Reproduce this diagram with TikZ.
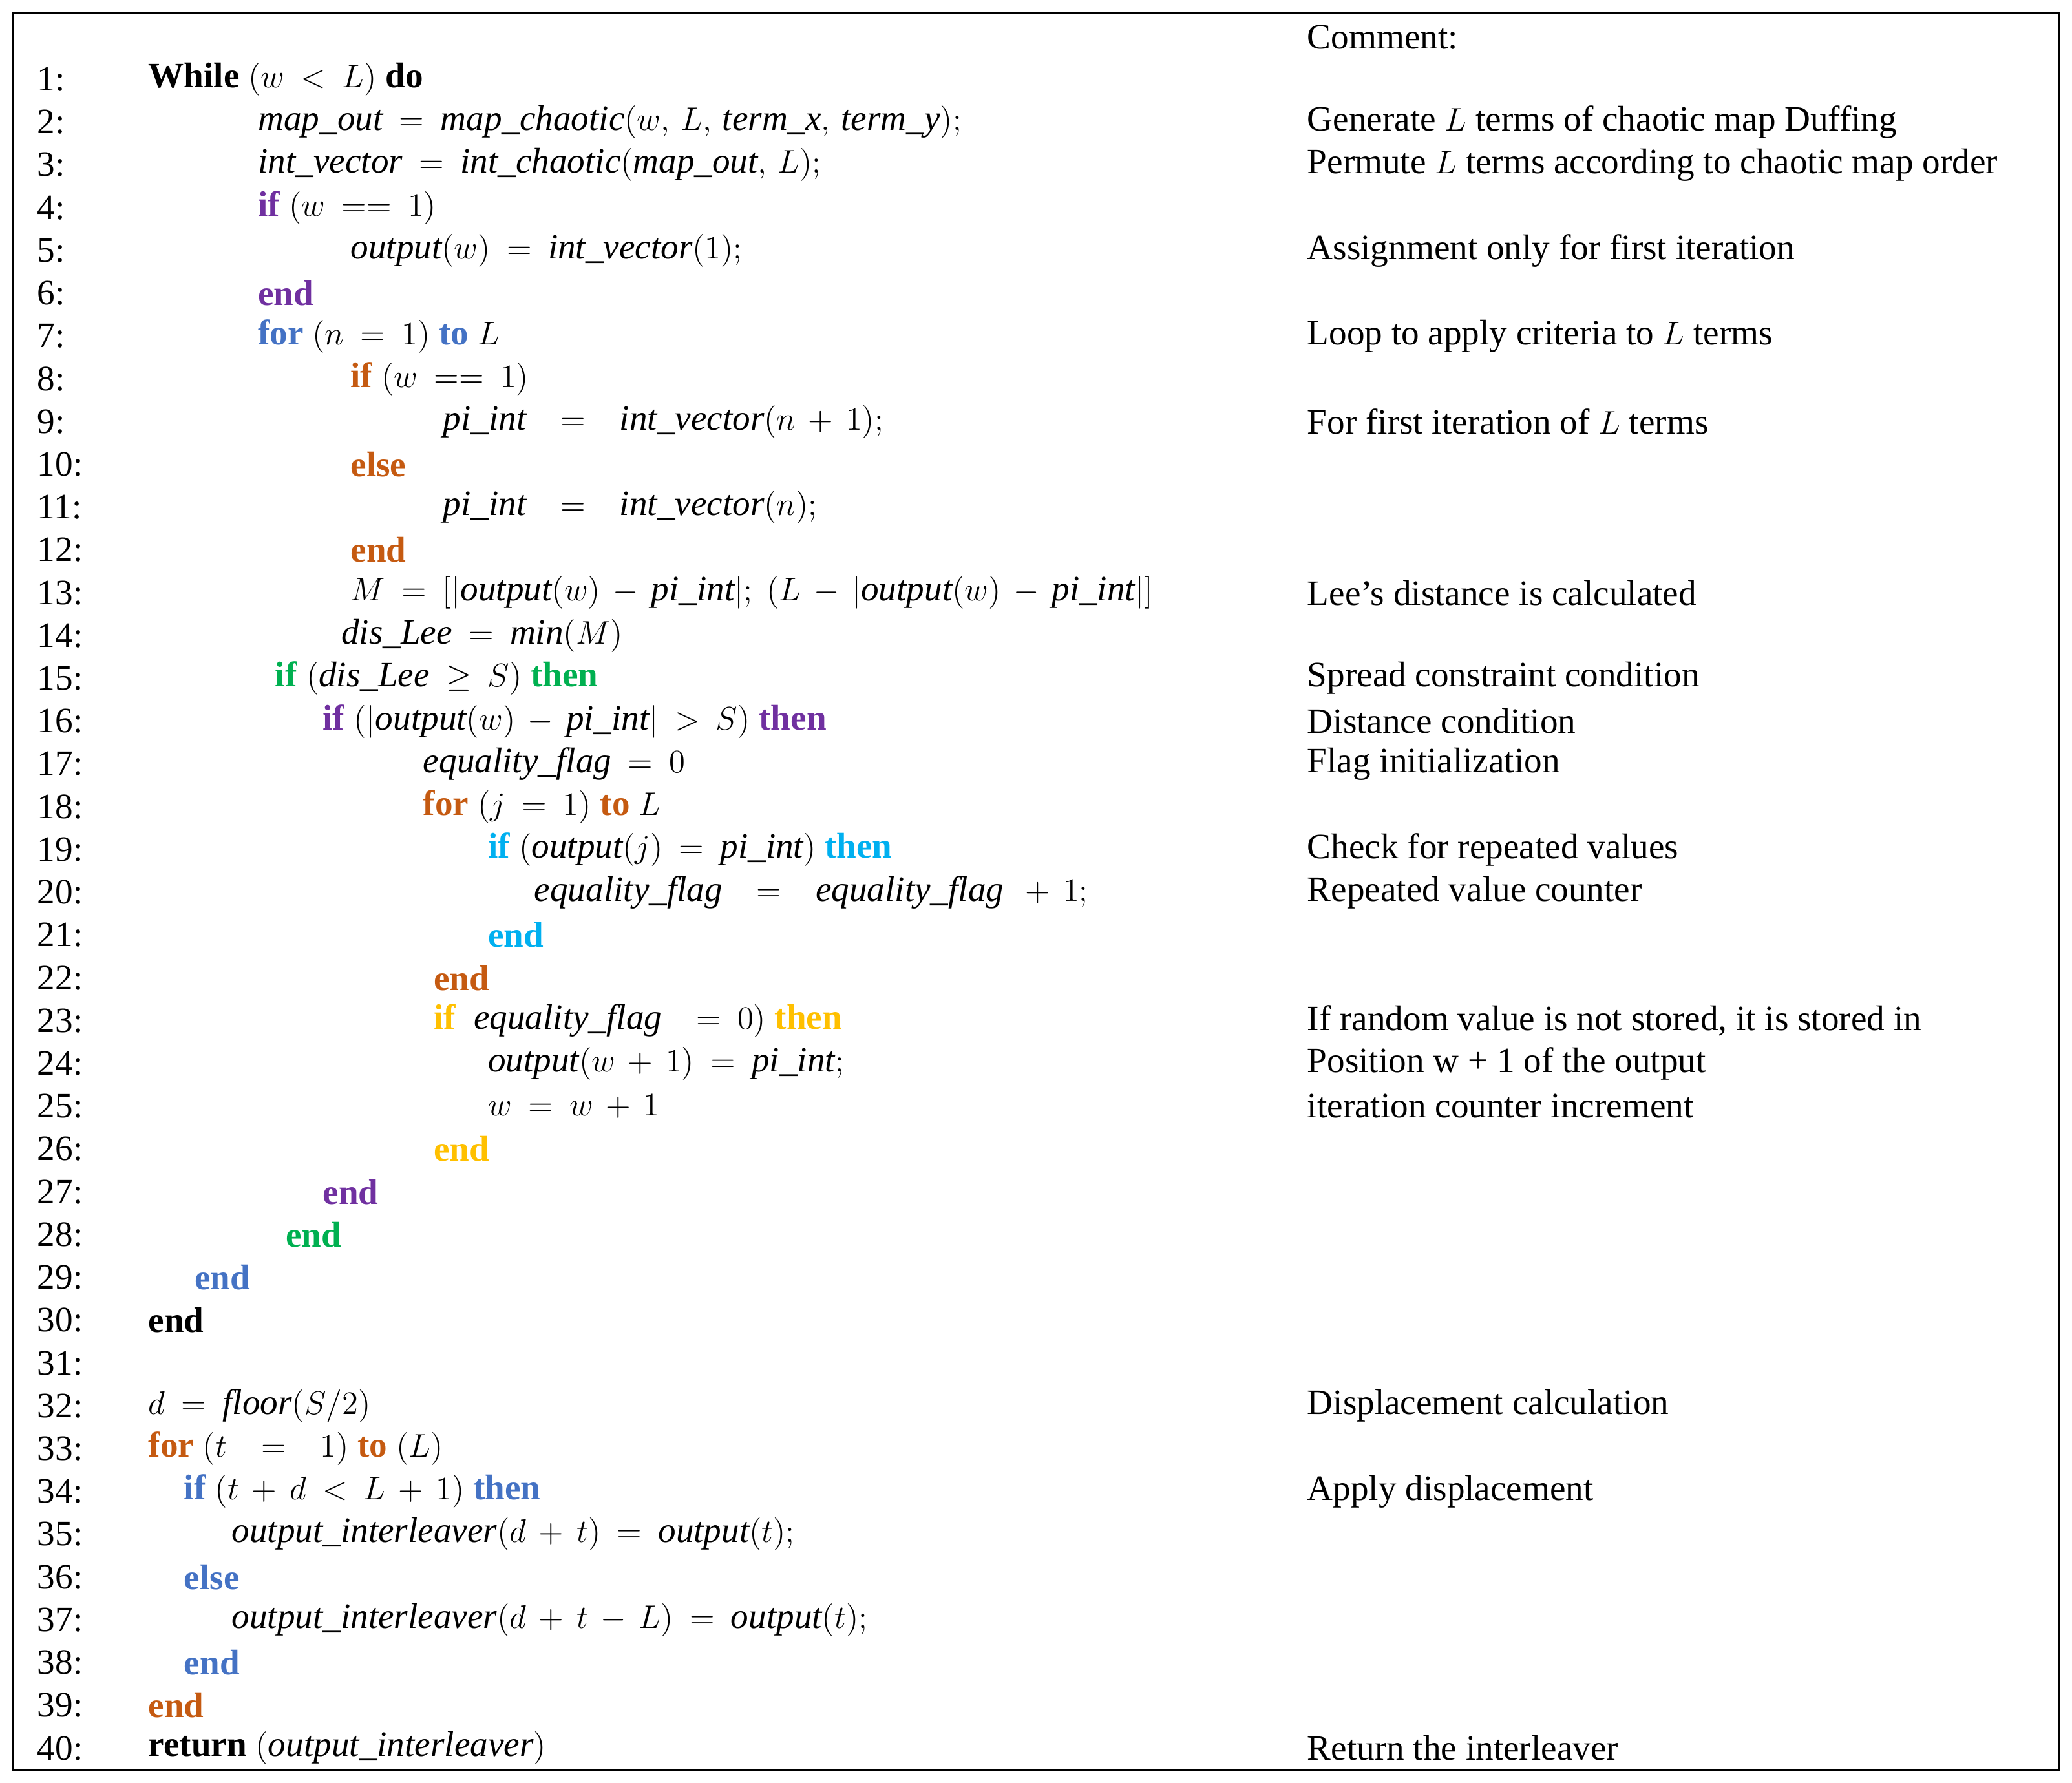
\documentclass[tikz,border=0pt]{standalone}
\usepackage{fontspec}
\setmainfont{Liberation Serif}
\definecolor{kpur}{HTML}{7030A0}
\definecolor{kblu}{HTML}{4472C4}
\definecolor{kora}{HTML}{C55A11}
\definecolor{kgrn}{HTML}{00B050}
\definecolor{kcya}{HTML}{00B0F0}
\definecolor{kgol}{HTML}{FFC000}
\newcommand{\kw}[2]{\textcolor{#1}{\textbf{#2}}}
\newcommand{\mi}[1]{\mathit{#1}}
\medmuskip=7mu plus 2mu
\thickmuskip=9mu plus 4mu
\begin{document}
\begin{tikzpicture}[x=0.02045cm,y=-0.02045cm,
  txt/.style={anchor=west,inner sep=0pt,font=\fontsize{15.7}{18}\selectfont}]
\useasboundingbox (0,0) rectangle (1568,1349);
\draw[line width=0.9pt] (10,10) rectangle (1558,1340);
\node[txt] (hd) at (989,28) {Comment:};
\foreach \i in {1,...,40}{\node[txt] (n\i) at (28,{60+(\i-1)*32.385}) {\i:};}
\def\Y#1{{60+(#1-1)*32.385}}
\node[txt] (l1) at (112,\Y{1}) {\kw{black}{While} $(w<L)$ \kw{black}{do}};
\node[txt] (l2) at (195,\Y{2}) {$\mi{map\_out}=\mi{map\_chaotic}(w,\,L,\,\mi{term\_x},\,\mi{term\_y});$};
\node[txt] (l3) at (195,\Y{3}) {$\mi{int\_vector}=\mi{int\_chaotic}(\mi{map\_out},\,L);$};
\node[txt] (l4) at (195,\Y{4}) {\kw{kpur}{if} $(w==1)$};
\node[txt] (l5) at (265,\Y{5}) {$\mi{output}(w)=\mi{int\_vector}(1);$};
\node[txt] (l6) at (195,\Y{6}) {\kw{kpur}{end}};
\node[txt] (l7) at (195,\Y{7}) {\kw{kblu}{for} $(n=1)$ \kw{kblu}{to} $L$};
\node[txt] (l8) at (265,\Y{8}) {\kw{kora}{if} $(w==1)$};
\node[txt] (l9) at (335,\Y{9}) {$\mi{pi\_int}\ \ =\ \ \mi{int\_vector}(n+1);$};
\node[txt] (l10) at (265,\Y{10}) {\kw{kora}{else}};
\node[txt] (l11) at (335,\Y{11}) {$\mi{pi\_int}\ \ =\ \ \mi{int\_vector}(n);$};
\node[txt] (l12) at (265,\Y{12}) {\kw{kora}{end}};
\node[txt] (l13) at (265,\Y{13}) {$M=[|\mi{output}(w)-\mi{pi\_int}|;\ (L-|\mi{output}(w)-\mi{pi\_int}|]$};
\node[txt] (l14) at (258,\Y{14}) {$\mi{dis\_Lee}=\mi{min}(M)$};
\node[txt] (l15) at (208,\Y{15}) {\kw{kgrn}{if} $(\mi{dis\_Lee}\geq S)$ \kw{kgrn}{then}};
\node[txt] (l16) at (244,\Y{16}) {\kw{kpur}{if} $(|\mi{output}(w)-\mi{pi\_int}|>S)$ \kw{kpur}{then}};
\node[txt] (l17) at (320,\Y{17}) {$\mi{equality\_flag}=0$};
\node[txt] (l18) at (320,\Y{18}) {\kw{kora}{for} $(j=1)$ \kw{kora}{to} $L$};
\node[txt] (l19) at (369,\Y{19}) {\kw{kcya}{if} $(\mi{output}(j)=\mi{pi\_int})$ \kw{kcya}{then}};
\node[txt] (l20) at (404,\Y{20}) {$\mi{equality\_flag}\ \ =\ \ \mi{equality\_flag}\ +1;$};
\node[txt] (l21) at (369,\Y{21}) {\kw{kcya}{end}};
\node[txt] (l22) at (328,\Y{22}) {\kw{kora}{end}};
\node[txt] (l23) at (328,\Y{23}) {\kw{kgol}{if}\ \ $\mi{equality\_flag}\ \ =0)$ \kw{kgol}{then}};
\node[txt] (l24) at (369,\Y{24}) {$\mi{output}(w+1)=\mi{pi\_int};$};
\node[txt] (l25) at (369,\Y{25}) {$w=w+1$};
\node[txt] (l26) at (328,\Y{26}) {\kw{kgol}{end}};
\node[txt] (l27) at (244,\Y{27}) {\kw{kpur}{end}};
\node[txt] (l28) at (216,\Y{28}) {\kw{kgrn}{end}};
\node[txt] (l29) at (147,\Y{29}) {\kw{kblu}{end}};
\node[txt] (l30) at (112,\Y{30}) {\kw{black}{end}};
\node[txt] (l32) at (112,\Y{32}) {$d=\mi{floor}(S/2)$};
\node[txt] (l33) at (112,\Y{33}) {\kw{kora}{for} $(t\ \ =\ \ 1)$ \kw{kora}{to} $(L)$};
\node[txt] (l34) at (139,\Y{34}) {\kw{kblu}{if} $(t+d<L+1)$ \kw{kblu}{then}};
\node[txt] (l35) at (175,\Y{35}) {$\mi{output\_interleaver}(d+t)=\mi{output}(t);$};
\node[txt] (l36) at (139,\Y{36}) {\kw{kblu}{else}};
\node[txt] (l37) at (175,\Y{37}) {$\mi{output\_interleaver}(d+t-L)=\mi{output}(t);$};
\node[txt] (l38) at (139,\Y{38}) {\kw{kblu}{end}};
\node[txt] (l39) at (112,\Y{39}) {\kw{kora}{end}};
\node[txt] (l40) at (112,\Y{40}) {\kw{black}{return} $(\mi{output\_interleaver})$};
% comments
\node[txt] (c2) at (989,\Y{2}) {Generate $L$ terms of chaotic map Duffing};
\node[txt] (c3) at (989,\Y{3}) {Permute $L$ terms according to chaotic map order};
\node[txt] (c5) at (989,\Y{5}) {Assignment only for first iteration};
\node[txt] (c7) at (989,\Y{7}) {Loop to apply criteria to $L$ terms};
\node[txt] (c9) at (989,\Y{9}) {For first iteration of $L$ terms};
\node[txt] (c13) at (989,\Y{13}) {Lee's distance is calculated};
\node[txt] (c15) at (989,\Y{15}) {Spread constraint condition};
\node[txt] (c16) at (989,\Y{16}) {Distance condition};
\node[txt] (c17) at (989,\Y{17}) {Flag initialization};
\node[txt] (c19) at (989,\Y{19}) {Check for repeated values};
\node[txt] (c20) at (989,\Y{20}) {Repeated value counter};
\node[txt] (c23) at (989,\Y{23}) {If random value is not stored, it is stored in};
\node[txt] (c24) at (989,\Y{24}) {Position w + 1 of the output};
\node[txt] (c25) at (989,\Y{25}) {iteration counter increment};
\node[txt] (c32) at (989,\Y{32}) {Displacement calculation};
\node[txt] (c34) at (989,\Y{34}) {Apply displacement};
\node[txt] (c40) at (989,\Y{40}) {Return the interleaver};
\end{tikzpicture}
\end{document}
